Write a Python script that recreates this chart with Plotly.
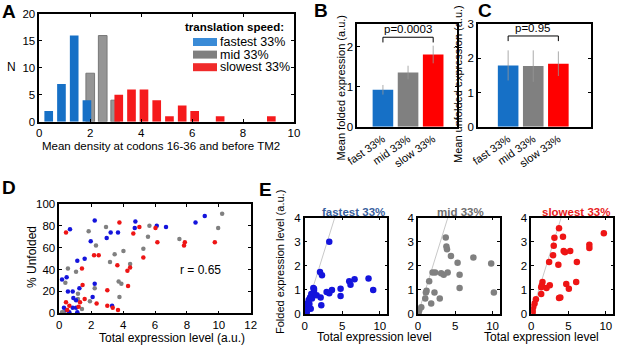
import plotly.graph_objects as go

W, H = 617, 346
FONT = "Arial, Liberation Sans, sans-serif"

# ---------------- data ----------------
# Panel A: histogram of mean density (bin centers and counts)
hist_fast_x = [0.37, 0.87, 1.37, 1.87]
hist_fast_n = [2, 7, 16, 4]
hist_mid_x = [2.0, 2.49, 2.98]
hist_mid_n = [9, 16, 4]
hist_slow_x = [3.12, 3.62, 4.11, 4.61, 5.11, 5.61, 6.1, 7.1, 9.11]
hist_slow_n = [5, 6, 6, 4, 1, 3, 2, 1, 1]
group_names = ["fastest 33%", "mid 33%", "slowest 33%"]
legend_title = "translation speed:"

# Panels B, C
bar_cats = ["fast 33%", "mid 33%", "slow 33%"]
folded_mean = [0.92, 1.35, 1.80]
folded_err = [0.12, 0.17, 0.22]
unfolded_mean = [1.79, 1.77, 1.84]
unfolded_err = [0.44, 0.46, 0.36]
p_folded = "p=0.0003"
p_unfolded = "p=0.95"

# Panel D: % unfolded vs total expression
d_fast_x = [0.17, 0.46, 0.67, 1.13, 1.59, 1.97, 2.22, 2.97, 3.22, 3.68, 4.77, 4.73, 6.11, 6.69, 8.54, 9.12,
            1.26, 0.84, 0.54, 0.88, 1.05, 2.09, 2.22, 3.31, 0.29, 0.46, 0.84, 1.05, 0.63, 1.13]
d_fast_y = [31, 33, 77, 48, 50, 66, 85, 69, 74, 74, 84, 78, 80, 79, 83, 89,
            23, 20, 20, 14, 12, 15, 27, 7, 5, 3, 5, 5, 1, 1]
d_mid_x = [0.54, 0.38, 1.05, 1.17, 1.17, 1.84, 2.30, 2.22, 1.92, 1.42, 2.93, 3.18, 3.47, 4.02, 3.72, 3.89,
           3.77, 4.44, 5.27, 5.56, 5.65, 7.53, 9.96, 10.21, 0.17, 0.29]
d_mid_y = [41, 28, 38, 18, 13, 75, 62, 23, 11, 4, 79, 47, 54, 57, 29, 27,
           15, 45, 59, 70, 80, 68, 78, 91, 1, 1]
d_slow_x = [0.42, 3.77, 5.02, 6.03, 2.18, 2.47, 1.42, 3.64, 4.64, 4.44, 4.27, 5.27, 6.15, 7.87, 7.82, 9.75,
            1.46, 3.01, 4.31, 0.42, 0.63, 1.30, 1.59, 2.34, 3.01, 3.35, 3.68, 1.21, 0.50]
d_slow_y = [74, 83, 79, 78, 53, 53, 41, 44, 73, 42, 39, 51, 65, 65, 62, 65,
            26, 21, 25, 10, 7, 10, 13, 9, 7, 5, 3, 6, 3]
r_text = "r = 0.65"

# Panel E: folded vs total expression
e_fast_x = [3.27, 2.04, 2.3, 1.15, 1.24, 0.88, 0.71, 0.53, 0.35, 0.27, 0.18, 0.27, 0.97, 1.59, 2.12, 2.21,
            2.92, 3.27, 3.63, 4.78, 4.78, 5.93, 6.1, 6.64, 8.5, 9.12, 0.62, 0.8, 1.24]
e_fast_y = [3.0, 1.74, 1.61, 1.08, 0.97, 0.83, 0.69, 0.58, 0.44, 0.30, 0.17, 0.06, 0.64, 0.78, 0.69, 0.36,
            0.91, 0.86, 1.0, 1.05, 0.75, 1.36, 1.22, 1.44, 1.47, 1.0, 0.42, 0.22, 1.05]
e_mid_x = [3.72, 3.81, 3.89, 4.42, 5.31, 7.43, 9.82, 10.18, 5.58, 5.58, 3.98, 3.45, 3.1, 2.3, 1.95, 1.5,
           1.15, 1.06, 0.97, 2.21, 1.77, 2.92, 0.44, 0.18, 0.09]
e_mid_y = [3.18, 2.8, 2.69, 2.41, 2.13, 2.35, 2.10, 0.89, 1.63, 1.08, 1.72, 1.63, 1.69, 1.72, 1.72, 1.36,
           0.97, 0.89, 0.64, 0.89, 0.44, 0.64, 0.28, 0.17, 0.06]
e_slow_x = [3.72, 3.1, 4.25, 9.73, 7.79, 7.79, 3.01, 2.92, 4.34, 4.51, 5.22, 2.39, 3.63, 6.11, 1.5, 1.42,
            1.33, 2.04, 2.48, 4.69, 5.04, 6.02, 1.33, 3.72, 3.89, 0.62, 0.44, 0.27, 0.18, 0.18]
e_slow_y = [3.56, 3.17, 3.21, 3.35, 2.88, 2.74, 2.83, 2.44, 2.62, 2.57, 2.62, 2.16, 2.05, 2.16, 1.33, 1.19,
            1.11, 1.08, 1.19, 1.25, 1.05, 1.33, 0.83, 0.66, 0.69, 0.61, 0.44, 0.30, 0.17, 0.06]
diag_line = [0, 4]

# ---------------- styles ----------------
C_BLUE_BAR = "#1670c6"
C_GRAY_BAR = "#8a8a8a"
C_RED_BAR = "#f51a1c"
LEG_COLS = ["#3a8bd7", "#7f7f7f", "#f02a2a"]
C_BLUE_PT = "#1414dc"
C_GRAY_PT = "#808080"
C_RED_PT = "#ee1515"


def px(x):
    return x / W


def py(y):
    return 1 - y / H


def axis(dom, rng, anchor, **kw):
    d = dict(domain=dom, range=rng, anchor=anchor, showline=True, linecolor="black", linewidth=1.5,
             mirror="ticks", ticks="inside", ticklen=3, tickcolor="black", showgrid=False,
             zeroline=False, automargin=False, tickfont=dict(size=11.5, color="black", family=FONT))
    d.update(kw)
    return d


fig = go.Figure()

# Panel A (gray drawn first so blue / red overlap it)
fig.add_trace(go.Bar(x=hist_mid_x, y=hist_mid_n, width=0.34, name=group_names[1],
                     marker=dict(color=C_GRAY_BAR, line=dict(color="#6a6a6a", width=1)), opacity=0.9,
                     showlegend=False, xaxis="x", yaxis="y"))
fig.add_trace(go.Bar(x=hist_fast_x, y=hist_fast_n, width=0.34, name=group_names[0],
                     marker=dict(color=C_BLUE_BAR, line=dict(width=0)), showlegend=False, xaxis="x", yaxis="y"))
fig.add_trace(go.Bar(x=hist_slow_x, y=hist_slow_n, width=0.34, name=group_names[2],
                     marker=dict(color=C_RED_BAR, line=dict(width=0)), showlegend=False, xaxis="x", yaxis="y"))

# Panels B, C
idx = list(range(len(bar_cats)))
bar_cols = [C_BLUE_BAR, "#808080", "#ff0000"]
fig.add_trace(go.Bar(x=idx, y=folded_mean, width=0.82, marker=dict(color=bar_cols, line=dict(width=0)),
                     error_y=dict(type="data", array=folded_err, color="rgba(150,150,150,0.8)", thickness=1, width=0),
                     showlegend=False, xaxis="x2", yaxis="y2"))
fig.add_trace(go.Bar(x=idx, y=unfolded_mean, width=0.82, marker=dict(color=bar_cols, line=dict(width=0)),
                     error_y=dict(type="data", array=unfolded_err, color="rgba(150,150,150,0.8)", thickness=1, width=0),
                     showlegend=False, xaxis="x3", yaxis="y3"))
# significance brackets
bx = [idx[0], idx[0], idx[-1], idx[-1]]
fig.add_trace(go.Scatter(x=bx, y=[2.1, 2.23, 2.23, 2.1], mode="lines", line=dict(color="black", width=1),
                         showlegend=False, xaxis="x2", yaxis="y2"))
fig.add_trace(go.Scatter(x=bx, y=[2.5, 2.65, 2.65, 2.5], mode="lines", line=dict(color="black", width=1),
                         showlegend=False, xaxis="x3", yaxis="y3"))

# Panel D
for xs, ys, c in [(d_mid_x, d_mid_y, C_GRAY_PT), (d_fast_x, d_fast_y, C_BLUE_PT), (d_slow_x, d_slow_y, C_RED_PT)]:
    fig.add_trace(go.Scatter(x=xs, y=ys, mode="markers", marker=dict(color=c, size=4.5),
                             showlegend=False, xaxis="x4", yaxis="y4"))

# Panel E
for k, (xs, ys, c) in enumerate([(e_fast_x, e_fast_y, C_BLUE_PT), (e_mid_x, e_mid_y, C_GRAY_PT),
                                 (e_slow_x, e_slow_y, C_RED_PT)]):
    xa, ya = "x%d" % (5 + k), "y%d" % (5 + k)
    fig.add_trace(go.Scatter(x=diag_line, y=diag_line, mode="lines", line=dict(color="#c8c8c8", width=1),
                             showlegend=False, xaxis=xa, yaxis=ya))
    fig.add_trace(go.Scatter(x=xs, y=ys, mode="markers", marker=dict(color=c, size=6.5),
                             showlegend=False, xaxis=xa, yaxis=ya))

lay = dict(
    width=W, height=H, margin=dict(l=0, r=0, t=0, b=0, pad=0, autoexpand=False),
    paper_bgcolor="white", plot_bgcolor="white",
    font=dict(family=FONT, color="black", size=11), barmode="overlay", showlegend=False,
    xaxis=axis([px(39.3), px(294)], [0, 10], "y", tickvals=[0, 2, 4, 6, 8, 10]),
    yaxis=axis([py(121.7), py(14)], [0, 20], "x", tickvals=[0, 5, 10, 15, 20]),
    xaxis2=axis([px(357.3), px(457.3)], [-1.02, 2.96], "y2", tickvals=idx, ticktext=bar_cats, tickangle=-35,
                ticks="", tickfont=dict(size=11)),
    yaxis2=axis([py(126.7), py(24)], [0, 2.56], "x2", tickvals=[0, 1, 2]),
    xaxis3=axis([px(478), px(591)], [-1.2, 3.3], "y3", tickvals=idx, ticktext=bar_cats, tickangle=-35,
                ticks="", tickfont=dict(size=11)),
    yaxis3=axis([py(126.7), py(24)], [0, 3], "x3", tickvals=[0, 1, 2, 3]),
    xaxis4=axis([px(59.3), px(250.7)], [0, 12], "y4", tickvals=[0, 2, 4, 6, 8, 10, 12]),
    yaxis4=axis([py(313.3), py(204)], [0, 100], "x4", tickvals=[0, 20, 40, 60, 80, 100]),
)
e_doms = [(304.7, 387.3), (418, 500), (531.3, 613.3)]
for k, (l, r) in enumerate(e_doms):
    lay["xaxis%d" % (5 + k)] = axis([px(l), px(r)], [0, 11], "y%d" % (5 + k), tickvals=[0, 5, 10])
    lay["yaxis%d" % (5 + k)] = axis([py(314), py(217.7)], [0, 4], "x%d" % (5 + k), tickvals=[0, 1, 2, 3, 4])
fig.update_layout(**lay)


def ann(text, x, y, size=11, bold=False, angle=0, color="black", xanchor="center", yanchor="middle"):
    t = "<b>%s</b>" % text if bold else text
    fig.add_annotation(text=t, x=px(x), y=py(y), xref="paper", yref="paper", showarrow=False,
                       font=dict(size=size, color=color, family=FONT), textangle=angle,
                       xanchor=xanchor, yanchor=yanchor)


# legend of panel A (title, swatches, labels)
ann(legend_title, 183, 27, size=11.5, bold=True, xanchor="left")
for k, (name, col) in enumerate(zip(group_names, LEG_COLS)):
    yc = 42 + k * 12.6
    fig.add_shape(type="rect", xref="paper", yref="paper", x0=px(193), x1=px(217), y0=py(yc - 4), y1=py(yc + 4),
                  fillcolor=col, line=dict(width=0))
    ann(name, 218, yc, size=12.5, xanchor="left")

# panel letters
for letter, lx, ly in [("A", 0, 12), ("B", 312, 11), ("C", 476, 10), ("D", 0, 188), ("E", 257, 189)]:
    ann(letter, lx, ly, size=19, bold=True, xanchor="left")

# axis titles
ann("Mean density at codons 16-36 and before TM2", 161, 146, size=11.5)
ann("N", 11.5, 67, size=12)
ann("Mean folded expression (a.u.)", 340.5, 88, size=11, angle=-90)
ann("Mean unfolded expression (a.u.)", 458, 84, size=11, angle=-90)
ann("Total expression level (a.u.)", 172, 337.5, size=12)
ann("% Unfolded", 32, 257, size=12, angle=-90)
ann("Folded expression level (a.u.)", 280, 262, size=11, angle=-90)
ann("Total expression level", 374, 337, size=12)
ann("Total expression level", 541.6, 337, size=12)
ann("fastest 33%", 353, 212, size=11.5, bold=True, color="#3a5f9e")
ann("mid 33%", 460, 212, size=11.5, bold=True, color="#6e6e6e")
ann("slowest 33%", 576, 212, size=11.5, bold=True, color="#e81c1c")

# p-values and r
fig.add_annotation(text=p_folded, x=1, y=2.23, xref="x2", yref="y2", showarrow=False, yanchor="bottom",
                   font=dict(size=11.5, family=FONT))
fig.add_annotation(text=p_unfolded, x=1, y=2.65, xref="x3", yref="y3", showarrow=False, yanchor="bottom",
                   font=dict(size=11.5, family=FONT))
fig.add_annotation(text=r_text, x=7.45, y=40, xref="x4", yref="y4", showarrow=False, xanchor="left",
                   font=dict(size=12, family=FONT))

fig.write_html("out.html", config={"displayModeBar": False},
               post_script="document.body.style.margin='0px';document.body.style.overflow='hidden';")
